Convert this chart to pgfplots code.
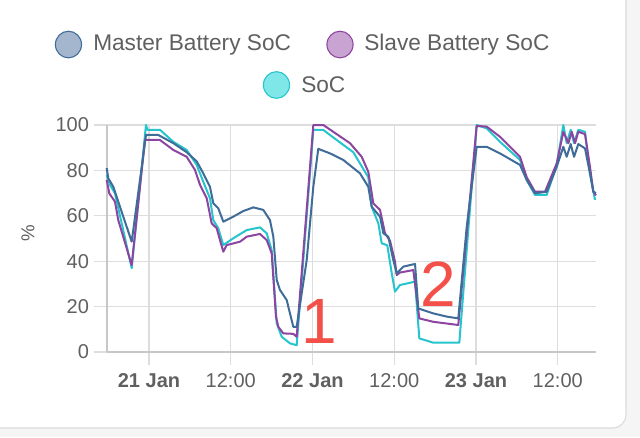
\documentclass[border=0pt]{standalone}
\usepackage{pgfplots}
\pgfplotsset{compat=1.18}
\usepackage{fontspec}
\setmainfont{Liberation Sans}
\definecolor{masterc}{HTML}{3F6C98}
\definecolor{slavec}{HTML}{8C45A0}
\definecolor{socc}{HTML}{26C4CC}
\definecolor{masterf}{HTML}{A4B6CD}
\definecolor{slavef}{HTML}{C9A3D1}
\definecolor{socf}{HTML}{7FE7E7}
\definecolor{txt}{HTML}{606060}
\definecolor{gridc}{HTML}{DDDDDD}
\definecolor{annot}{HTML}{F4504A}
\begin{document}
\begin{tikzpicture}
% card background
\fill[black!4] (-80.25pt,-63.75pt) rectangle (399.75pt,264pt);
\filldraw[fill=white,draw=black!14,line width=0.8pt,rounded corners=10pt] (-100pt,-57pt) rectangle (389.25pt,290pt);
\begin{axis}[
  at={(0pt,0pt)}, anchor=south west,
  scale only axis, width=366.75pt, height=170.25pt,
  xmin=-6.165, xmax=65.614, ymin=0, ymax=100,
  axis x line*=bottom, axis y line*=left,
  axis line style={black!22, line width=0.8pt},
  xtick={0,12,24,36,48,60},
  xticklabels={\textbf{21 Jan},12:00,\textbf{22 Jan},12:00,\textbf{23 Jan},12:00},
  ytick={0,20,40,60,80,100},
  tick align=outside, major tick length=10pt,
  tick style={gridc, line width=0.8pt},
  grid=major, major grid style={gridc, line width=0.8pt},
  tick label style={font=\fontsize{15}{18}\selectfont, text=txt},
  xticklabel style={yshift=-2.5pt},
  /pgf/number format/assume math mode=true,
  clip=false,
  line join=round,
]
\addplot[socc, line width=1.5pt] coordinates {
(-6.21,78) (-5.72,73.6) (-4.99,69.9) (-2.54,36.9) (-0.44,100) (-0.25,97.9) (1.61,97.9) (3.57,92.6) (5.53,89) (7.0,82.4) (7.97,75) (8.95,67.7) (9.44,58.1) (10.17,54.5) (10.91,47.1) (12.37,50.1) (14.34,53.7) (16.29,54.9) (17.28,52.3) (18.01,44.9) (18.75,12.6) (19.48,6.7) (20.70,3.8) (21.68,3) (24.12,97.8) (25.59,97.8) (27.55,93.4) (29.99,88) (32.19,77) (32.69,64) (33.66,56.7) (34.16,47.9) (34.98,47) (35.63,34.7) (36.11,26.6) (36.84,29.5) (39.05,31) (39.68,6) (41.73,4.1) (45.55,4.1) (48.10,100) (49.57,98.5) (51.52,92.6) (54.46,84.6) (55.44,75.8) (56.66,69.2) (58.38,69.2) (59.85,82.4) (60.82,100) (61.31,92) (61.90,97.9) (62.39,92) (63.02,97.9) (64.0,97) (64.73,78.7) (65.47,67)
};
\addplot[slavec, line width=1.5pt] coordinates {
(-6.21,75.8) (-5.83,69.9) (-4.99,66.2) (-4.51,58.1) (-2.54,38.3) (-0.59,93.4) (1.61,93.4) (3.57,89) (5.53,86) (6.75,80.2) (7.49,73.6) (8.47,67.7) (9.20,56.7) (9.94,54.5) (10.42,49.3) (10.91,44.2) (11.41,47.1) (13.36,48.6) (14.34,50.8) (16.29,52) (17.28,49.3) (18.01,43.5) (18.64,15.6) (18.98,11.1) (19.71,8.2) (21.18,8) (21.68,6.7) (24.12,100) (25.59,100) (27.05,97) (29.50,92) (31.22,86) (32.19,79.4) (32.93,65.5) (33.91,62.6) (34.64,52.3) (35.38,49) (36.11,39.8) (36.36,33.9) (36.84,35) (38.80,36.1) (39.68,14.8) (41.73,13.3) (45.40,11.9) (48.10,99.6) (49.57,99.3) (51.52,94.8) (54.46,86) (55.44,77) (56.66,70.6) (58.13,70.6) (59.85,83.1) (60.82,97) (61.56,92) (62.06,97) (62.54,92) (63.02,97) (64.0,96) (64.73,81.6) (65.22,70.6) (65.61,69)
};
\addplot[masterc, line width=1.5pt] coordinates {
(-6.21,81) (-5.97,76.5) (-5.24,72.8) (-2.54,48.6) (-0.44,95.6) (1.37,95.6) (3.57,92) (5.53,88) (7.0,84) (7.97,78.7) (8.95,72.8) (9.44,65.5) (10.17,63.3) (10.91,57.4) (12.37,59.6) (13.84,62.1) (15.31,63.7) (16.78,62.6) (17.76,58.1) (18.25,50.8) (18.75,31.7) (19.23,27.3) (20.21,22.9) (21.18,11.1) (21.68,11.1) (23.15,40.5) (24.12,72.8) (24.85,89.5) (26.57,87.5) (28.52,84.6) (30.97,78.7) (32.19,72.8) (32.69,64) (33.91,59.6) (34.40,52.3) (35.13,50.8) (35.86,40.5) (36.36,34.7) (37.33,37.6) (39.05,38.8) (39.53,19.2) (41.73,17) (43.70,15.6) (45.40,14.8) (46.64,55.2) (48.10,90.4) (49.57,90.4) (51.52,87.5) (54.46,82.4) (55.44,75.8) (56.66,69.9) (58.38,70.6) (59.85,81.6) (60.82,90.4) (61.31,86) (61.90,91.6) (62.39,86) (63.02,91.6) (64.0,89.7) (64.73,78.7) (65.22,70.6) (65.61,70)
};
\end{axis}
% y label
\node[rotate=90, text=txt, font=\fontsize{14}{16}\selectfont] at (-59.25pt,89.25pt) {\%};
% annotations
\node[text=annot, font=\fontsize{48}{52}\selectfont] at (159pt,22.9pt) {1};
\node[text=annot, font=\fontsize{48}{52}\selectfont] at (248.25pt,50.6pt) {2};
% legend
\filldraw[fill=masterf, draw=masterc, line width=0.8pt] (-28.9pt,230.6pt) ellipse (9.8pt and 10pt);
\node[anchor=west, text=txt, font=\fontsize{17}{20}\selectfont, inner sep=0pt] at (-10.5pt,230.6pt) {Master Battery SoC};
\filldraw[fill=slavef, draw=slavec, line width=0.8pt] (174.75pt,230.6pt) ellipse (9.8pt and 10pt);
\node[anchor=west, text=txt, font=\fontsize{17}{20}\selectfont, inner sep=0pt] at (192.75pt,230.6pt) {Slave Battery SoC};
\filldraw[fill=socf, draw=socc, line width=0.8pt] (127.1pt,200.25pt) ellipse (9.8pt and 10pt);
\node[anchor=west, text=txt, font=\fontsize{17}{20}\selectfont, inner sep=0pt] at (145.5pt,200.25pt) {SoC};
\pgfresetboundingbox
\path (-80.25pt,-63.75pt) rectangle (399.75pt,264pt);
\end{tikzpicture}
\end{document}
